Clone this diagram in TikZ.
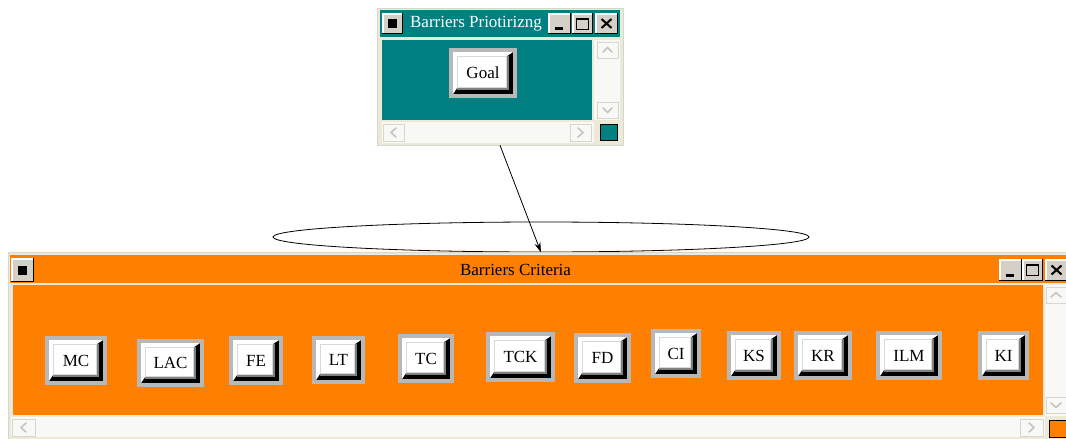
\documentclass[tikz,border=0pt]{standalone}
\usepackage{fontspec}
\setmainfont{Liberation Serif}
\usetikzlibrary{calc,shapes.geometric,arrows.meta}

\definecolor{tealwin}{HTML}{008080}
\definecolor{orangewin}{HTML}{FF8000}
\definecolor{winframe}{HTML}{ECE9D8}
\definecolor{btnring}{HTML}{B8B8B8}
\definecolor{btnshade}{HTML}{808080}
\definecolor{btnline}{HTML}{D8D8D8}
\definecolor{ctlface}{HTML}{D4D0C8}
\definecolor{sbfill}{HTML}{F8F8F5}
\definecolor{sbedge}{HTML}{D6D6D0}
\definecolor{sbglyph}{HTML}{C4C4C4}

\tikzset{
  % raised push button with grey ring and bevel
  btn/.style={fill=btnring, inner sep=0pt, font=\fontsize{17}{17}\selectfont,
    path picture={
      \path (path picture bounding box.south west) coordinate (q1)
            (path picture bounding box.north east) coordinate (q2);
      \fill[black] ($(q1)+(4pt,4pt)$) rectangle ($(q2)+(-4pt,-4pt)$);
      \fill[white] ($(q1)+(4pt,4pt)$) -- ($(q1|-q2)+(4pt,-4pt)$) -- ($(q2)+(-4pt,-4pt)$)
            -- ($(q2)+(-10pt,-8pt)$) -- ($(q1|-q2)+(8pt,-8pt)$) -- ($(q1)+(8pt,10pt)$) -- cycle;
      \fill[btnshade] ($(q1)+(8pt,8pt)$) rectangle ($(q2)+(-8pt,-8pt)$);
      \filldraw[fill=white, draw=btnline, line width=1pt]
            ($(q1)+(8.5pt,10.5pt)$) rectangle ($(q2)+(-10.5pt,-8.5pt)$);
    }},
  % title bar control button
  ctl/.style={fill=ctlface, inner sep=0pt,
    path picture={
      \draw[white, line width=1.5pt] ($(path picture bounding box.south west)+(0.75pt,0)$)
            |- ($(path picture bounding box.north east)+(0,-0.75pt)$);
      \draw[black, line width=1.5pt] ($(path picture bounding box.south west)+(0,0.75pt)$)
            -| ($(path picture bounding box.north east)+(-0.75pt,0)$);
    }},
  winbox/.style={fill=winframe, draw=sbedge, line width=0.6pt, inner sep=0pt},
  sbbox/.style={fill=sbfill, draw=sbedge, line width=0.6pt},
  chev/.style={draw=sbglyph, line width=1.6pt, line cap=round, line join=round},
  titletext/.style={font=\fontsize{17}{17}\selectfont, inner sep=0pt},
  link/.style={draw=black, line width=0.8pt},
}

\begin{document}
\begin{tikzpicture}[x=1pt, y=-1pt]
\useasboundingbox[fill=white] (0,0) rectangle (1066,439);

% ---------- relation ellipse and arrow ----------
\node[link, ellipse, minimum width=536pt, minimum height=30pt, inner sep=0pt] (critset) at (541,237) {};

% ---------- window: Barriers Priotirizng ----------
\node[winbox, minimum width=246pt, minimum height=137pt] (prio) at (500,76.5) {};
\fill[tealwin] (380,10) rectangle (620,37);
\fill[tealwin] (382,40) rectangle (592,120);
% scroll bars
\fill[sbfill] (594,40) rectangle (620,120);
\fill[sbfill] (382,122) rectangle (594,143);
\draw[sbbox] (597,42) rectangle (618,58);
\draw[chev] (603,52) -- (607.5,47.5) -- (612,52);
\draw[sbbox] (597,102) rectangle (618,118);
\draw[chev] (603,108) -- (607.5,112.5) -- (612,108);
\draw[sbbox] (383,124) rectangle (404,141);
\draw[chev] (396,128) -- (391,132.5) -- (396,137);
\draw[sbbox] (570,124) rectangle (591,141);
\draw[chev] (578,128) -- (583,132.5) -- (578,137);
\filldraw[fill=tealwin, draw=black, line width=0.8pt] (600,124) rectangle (617,140);
% title bar
\node[ctl, minimum width=21pt, minimum height=21pt] (pmenu) at (392.5,23.5) {};
\fill[black] ([shift={(-4.5pt,-4.5pt)}]pmenu.center) rectangle ([shift={(4.5pt,4.5pt)}]pmenu.center);
\node[titletext, text=white] (ptitle) at (476,24) {Barriers Priotirizng};
\node[ctl, minimum width=23pt, minimum height=21pt] (pmin) at (559.5,23.5) {};
\fill[black] ([shift={(-4.5pt,-6.5pt)}]pmin.center) rectangle ([shift={(3.5pt,-3.5pt)}]pmin.center);
\node[ctl, minimum width=21pt, minimum height=21pt] (pmax) at (582.5,23.5) {};
\draw[black, line width=1pt] ([shift={(-6pt,-5.5pt)}]pmax.center) rectangle ([shift={(6pt,5.5pt)}]pmax.center);
\draw[black, line width=1.5pt] ([shift={(-6pt,4.5pt)}]pmax.center) -- ([shift={(6pt,4.5pt)}]pmax.center);
\node[ctl, minimum width=23pt, minimum height=21pt] (pclose) at (606.5,23.5) {};
\draw[black, line width=2pt] ([shift={(-5pt,-4.5pt)}]pclose.center) -- ([shift={(5pt,4.5pt)}]pclose.center);
\draw[black, line width=2pt] ([shift={(-5pt,4.5pt)}]pclose.center) -- ([shift={(5pt,-4.5pt)}]pclose.center);
% node inside
\node[btn, minimum width=68pt, minimum height=50pt] (goal) at (483,73) {Goal};

% ---------- window: Barriers Criteria ----------
\node[winbox, minimum width=1062pt, minimum height=187pt] (critwin) at (539,345.5) {};
\fill[orangewin] (10,255) rectangle (1066,283);
\fill[orangewin] (13,285) rectangle (1043,415);
% scroll bars
\fill[sbfill] (1045,285) rectangle (1066,416);
\fill[sbfill] (11,417) rectangle (1045,437);
\draw[sbbox] (1046,287) rectangle (1066,303);
\draw[chev] (1051,297) -- (1056,292.5) -- (1061,297);
\draw[sbbox] (1046,397) rectangle (1066,413);
\draw[chev] (1051,403) -- (1056,407.5) -- (1061,403);
\draw[sbbox] (12,419) rectangle (35,436);
\draw[chev] (26,423) -- (21,427.5) -- (26,432);
\draw[sbbox] (1020,419) rectangle (1043,436);
\draw[chev] (1029,423) -- (1034,427.5) -- (1029,432);
\filldraw[fill=orangewin, draw=black, line width=0.8pt] (1049.5,420) rectangle (1066,437);
% title bar
\node[ctl, minimum width=23pt, minimum height=24pt] (cmenu) at (22.5,270) {};
\fill[black] ([shift={(-4.5pt,-4.5pt)}]cmenu.center) rectangle ([shift={(4.5pt,4.5pt)}]cmenu.center);
\node[titletext, text=black] (ctitle) at (515.5,270) {Barriers Criteria};
\node[ctl, minimum width=23pt, minimum height=22pt] (cmin) at (1010.5,270) {};
\fill[black] ([shift={(-4.5pt,-6.5pt)}]cmin.center) rectangle ([shift={(3.5pt,-3.5pt)}]cmin.center);
\node[ctl, minimum width=21pt, minimum height=22pt] (cmax) at (1032.5,270) {};
\draw[black, line width=1pt] ([shift={(-6pt,-5.5pt)}]cmax.center) rectangle ([shift={(6pt,5.5pt)}]cmax.center);
\draw[black, line width=1.5pt] ([shift={(-6pt,4.5pt)}]cmax.center) -- ([shift={(6pt,4.5pt)}]cmax.center);
\node[ctl, minimum width=23pt, minimum height=22pt] (cclose) at (1056.5,270) {};
\draw[black, line width=2pt] ([shift={(-5pt,-4.5pt)}]cclose.center) -- ([shift={(5pt,4.5pt)}]cclose.center);
\draw[black, line width=2pt] ([shift={(-5pt,4.5pt)}]cclose.center) -- ([shift={(5pt,-4.5pt)}]cclose.center);

% criteria buttons
\node[btn, minimum width=62pt, minimum height=49pt] (mc)  at (76,360.5)   {MC};
\node[btn, minimum width=67pt, minimum height=48pt] (lac) at (170.5,363)  {LAC};
\node[btn, minimum width=54pt, minimum height=49pt] (fe)  at (256,360.5)  {FE};
\node[btn, minimum width=53pt, minimum height=48pt] (lt)  at (338.5,360)  {LT};
\node[btn, minimum width=56pt, minimum height=49pt] (tc)  at (426,358.5)  {TC};
\node[btn, minimum width=69pt, minimum height=50pt] (tck) at (520.5,357)  {TCK};
\node[btn, minimum width=57pt, minimum height=50pt] (fd)  at (602.5,358)  {FD};
\node[btn, minimum width=50pt, minimum height=49pt] (ci)  at (676,353.5)  {CI};
\node[btn, minimum width=54pt, minimum height=49pt] (ks)  at (754,355.5)  {KS};
\node[btn, minimum width=58pt, minimum height=49pt] (kr)  at (823,355.5)  {KR};
\node[btn, minimum width=66pt, minimum height=49pt] (ilm) at (909,355.5)  {ILM};
\node[btn, minimum width=51pt, minimum height=49pt] (ki)  at (1003.5,355.5) {KI};

% arrow from the goal window down to the criteria set
\draw[link, -{Stealth[length=10pt, width=6pt]}] (prio.south) -- (critset.south);
\end{tikzpicture}
\end{document}
